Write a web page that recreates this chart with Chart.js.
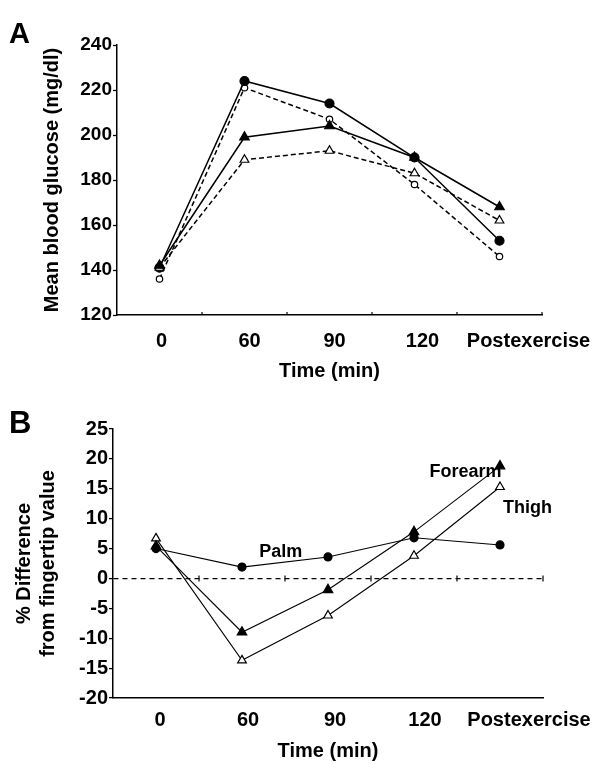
<!DOCTYPE html>
<html><head><meta charset="utf-8">
<script src="https://cdn.jsdelivr.net/npm/chart.js@4.4.1/dist/chart.umd.min.js"></script>
<style>
html,body{margin:0;padding:0;background:#fff;width:599px;height:764px;overflow:hidden;}
#wrap{position:relative;width:599px;height:764px;background:#fff;}
canvas{position:absolute;left:0;}
#ca{top:0;}
#cb{top:385px;}
.letter{position:absolute;font-family:"Liberation Sans",Arial,Helvetica,sans-serif;font-weight:bold;line-height:1;color:#000;}
</style></head>
<body><div id="wrap">
<canvas id="ca" width="599" height="385"></canvas>
<canvas id="cb" width="599" height="379"></canvas>
<div class="letter" style="left:9px;top:19px;font-size:29px;">A</div>
<div class="letter" style="left:9px;top:407px;font-size:31px;">B</div>
</div>
<script>
// ---- data ----
const timeLabels = ['0', '60', '90', '120', 'Postexercise'];

// Panel A: mean blood glucose (mg/dl)
const glucoseFilledCircle   = [141, 224, 214, 190, 153];
const glucoseOpenCircle     = [136, 221, 207, 178, 146];
const glucoseFilledTriangle = [142, 199, 204, 190, 168];
const glucoseOpenTriangle   = [141, 189, 193, 183, 162];
const glucoseTicks = {min: 120, max: 240, step: 20};

// Panel B: % difference from fingertip value
const diffPalm    = [5.0, 1.9, 3.6, 6.8, 5.6];
const diffForearm = [5.4, -9.0, -1.9, 7.8, 18.8];
const diffThigh   = [6.7, -13.7, -6.2, 3.8, 15.3];
const diffTicks = {min: -20, max: 25, step: 5};

const siteNames = ['Palm', 'Forearm', 'Thigh'];

// ---- styling / helpers ----
const FAM = '"Liberation Sans", Arial, Helvetica, sans-serif';
Chart.defaults.color = '#000';
Chart.defaults.font.family = FAM;

const xLabelPlugin = {
  id: 'xLabels',
  afterDraw(chart, args, o) {
    const xs = chart.scales.x, ctx = chart.ctx;
    ctx.save();
    ctx.font = 'bold ' + o.size + 'px ' + FAM;
    ctx.fillStyle = '#000';
    ctx.textAlign = 'center';
    ctx.textBaseline = 'middle';
    chart.data.labels.forEach((lab, i) => {
      ctx.fillText(lab, xs.getPixelForValue(i) + o.shifts[i], xs.top + o.dy);
    });
    ctx.restore();
  }
};

const catTickPlugin = {
  id: 'catTicks',
  afterDraw(chart, args, o) {
    const xs = chart.scales.x, ys = chart.scales.y, ctx = chart.ctx;
    const n = chart.data.labels.length;
    const y = o.atValue === null ? xs.top : ys.getPixelForValue(o.atValue);
    ctx.save();
    ctx.strokeStyle = '#000';
    ctx.lineWidth = 1.2;
    ctx.beginPath();
    for (let i = 0; i < n; i++) {
      const x = xs.getPixelForValue(i + 0.5);
      ctx.moveTo(x, y - o.up);
      ctx.lineTo(x, y + o.down);
    }
    ctx.stroke();
    ctx.restore();
  }
};

const notePlugin = {
  id: 'notes',
  afterDatasetsDraw(chart, args, o) {
    if (!o.items) return;
    const xs = chart.scales.x, ys = chart.scales.y, ctx = chart.ctx;
    ctx.save();
    ctx.font = 'bold ' + o.size + 'px ' + FAM;
    ctx.fillStyle = '#000';
    ctx.textAlign = 'center';
    ctx.textBaseline = 'middle';
    o.items.forEach(it => {
      ctx.fillText(it.text, xs.getPixelForValue(it.at), ys.getPixelForValue(it.value));
    });
    ctx.restore();
  }
};

function lineSet(label, data, opts) {
  return Object.assign({
    label, data,
    borderColor: '#000',
    borderWidth: 1.5,
    pointBorderColor: '#000',
    pointBorderWidth: 1.2,
    tension: 0,
    fill: false
  }, opts);
}

// ---- Panel A ----
new Chart(document.getElementById('ca'), {
  type: 'line',
  data: {
    labels: timeLabels,
    datasets: [
      lineSet('Filled triangles', glucoseFilledTriangle, {pointStyle: 'triangle', pointRadius: 5.5, pointBackgroundColor: '#000'}),
      lineSet('Open triangles', glucoseOpenTriangle, {borderDash: [5, 3], pointStyle: 'triangle', pointRadius: 5, pointBackgroundColor: '#fff'}),
      lineSet('Filled circles', glucoseFilledCircle, {pointStyle: 'circle', pointRadius: 4.5, pointBackgroundColor: '#000'}),
      lineSet('Open circles', glucoseOpenCircle, {borderDash: [5, 3], pointStyle: 'circle', pointRadius: 3.2, pointBackgroundColor: '#fff'})
    ]
  },
  options: {
    responsive: false,
    animation: false,
    events: [],
    layout: {padding: {left: 0, right: 57, top: 45, bottom: 0}},
    plugins: {
      legend: {display: false},
      tooltip: {enabled: false},
      xLabels: {size: 20, dy: 26, shifts: [2, 5, 5, 8, 29]},
      catTicks: {atValue: null, up: 3, down: 0},
      notes: {}
    },
    scales: {
      x: {
        offset: true,
        afterFit(s) { s.height = 70; },
        ticks: {display: false},
        grid: {display: false},
        border: {display: true, color: '#000', width: 1.5},
        title: {display: true, text: 'Time (min)', color: '#000',
                font: {size: 20, weight: 'bold', lineHeight: 1.2}, padding: {top: 0, bottom: 2}}
      },
      y: {
        min: glucoseTicks.min, max: glucoseTicks.max,
        afterFit(s) { s.width = 117; },
        ticks: {stepSize: glucoseTicks.step, color: '#000', padding: 1,
                font: {size: 19, weight: 'bold'}},
        grid: {drawOnChartArea: false, drawTicks: true, tickLength: 4, tickColor: '#000', tickWidth: 1.3},
        border: {display: true, color: '#000', width: 1.5},
        title: {display: true, text: 'Mean blood glucose (mg/dl)', color: '#000',
                font: {size: 20, weight: 'bold', lineHeight: 1.2}, padding: {top: 40, bottom: 0}}
      }
    }
  },
  plugins: [xLabelPlugin, catTickPlugin, notePlugin]
});

// ---- Panel B ----
new Chart(document.getElementById('cb'), {
  type: 'line',
  data: {
    labels: timeLabels,
    datasets: [
      lineSet(siteNames[1], diffForearm, {borderWidth: 1.1, pointStyle: 'triangle', pointRadius: 5.5, pointBackgroundColor: '#000'}),
      lineSet(siteNames[2], diffThigh, {borderWidth: 1.1, pointStyle: 'triangle', pointRadius: 5, pointBackgroundColor: '#fff'}),
      lineSet(siteNames[0], diffPalm, {borderWidth: 1.1, pointStyle: 'circle', pointRadius: 4, pointBackgroundColor: '#000'})
    ]
  },
  options: {
    responsive: false,
    animation: false,
    events: [],
    layout: {padding: {left: 0, right: 56, top: 44, bottom: 0}},
    plugins: {
      legend: {display: false},
      tooltip: {enabled: false},
      xLabels: {size: 20, dy: 22, shifts: [4, 6, 7, 11, 29]},
      catTicks: {atValue: 0, up: 3, down: 3},
      notes: {size: 18, items: [
        {text: siteNames[0], at: 1.45, value: 4.4},
        {text: siteNames[1], at: 3.6, value: 17.8},
        {text: siteNames[2], at: 4.32, value: 11.8}
      ]}
    },
    scales: {
      x: {
        offset: true,
        afterFit(s) { s.height = 66; },
        ticks: {display: false},
        grid: {display: false},
        border: {display: true, color: '#000', width: 1.5},
        title: {display: true, text: 'Time (min)', color: '#000',
                font: {size: 20, weight: 'bold', lineHeight: 1.2}, padding: {top: 0, bottom: 1}}
      },
      y: {
        min: diffTicks.min, max: diffTicks.max,
        afterFit(s) { s.width = 113; },
        ticks: {stepSize: diffTicks.step, color: '#000', padding: 1,
                font: {size: 20, weight: 'bold'}},
        grid: {
          drawOnChartArea: true, drawTicks: true, tickLength: 4,
          tickColor: '#000', tickWidth: 1.3, lineWidth: 1.2,
          color: c => (c.tick && c.tick.value === 0) ? '#000' : 'rgba(0,0,0,0)'
        },
        border: {display: true, color: '#000', width: 1.5, dash: [5, 4]},
        title: {display: true, text: ['% Difference', 'from fingertip value'], color: '#000',
                font: {size: 20, weight: 'bold', lineHeight: 1.2}, padding: {top: 12, bottom: 0}}
      }
    }
  },
  plugins: [xLabelPlugin, catTickPlugin, notePlugin]
});
</script>
</body></html>
